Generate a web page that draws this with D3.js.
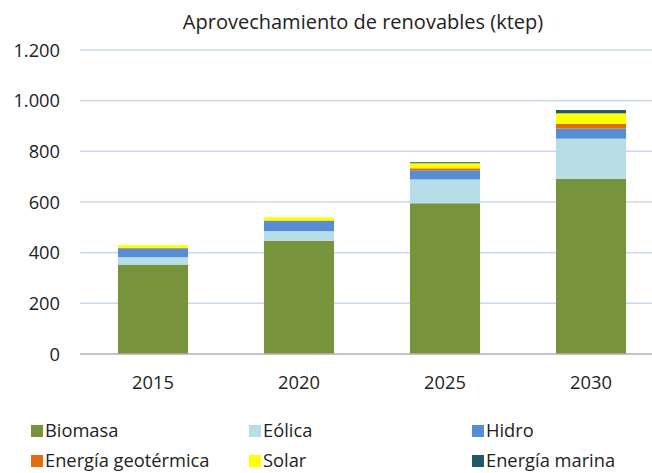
<!DOCTYPE html>
<html><head><meta charset="utf-8">
<script src="https://cdn.jsdelivr.net/npm/d3@7"></script>
<style>body{margin:0;background:#fff}svg{display:block}</style>
</head><body><svg id="c" width="652" height="473"></svg>
<script>
const categories = ["2015","2020","2025","2030"];
const seriesNames = ["Biomasa","Eólica","Hidro","Energía geotérmica","Solar","Energía marina"];
const biomasa = [353, 447, 595, 692];
const eolica = [29, 38, 94, 158];
const hidro = [35, 40, 36, 40];
const geotermica = [2, 2, 8, 18];
const solar = [11, 13, 20, 42];
const marina = [0, 0, 4, 13];
const yTicks = [0,200,400,600,800,1000,1200];
const colors = ["#77933c","#b7dee8","#558ed5","#e46c0a","#ffff00","#215968"];
const title = "Aprovechamiento de renovables (ktep)";

const seriesVals = [biomasa, eolica, hidro, geotermica, solar, marina];
const rows = categories.map((c,i)=>{const r={cat:c}; seriesNames.forEach((s,j)=>r[s]=seriesVals[j][i]); return r;});
const stack = d3.stack().keys(seriesNames)(rows);

const svg = d3.select("#c");
const font = "'Open Sans', sans-serif";
const fs = 18.3;
const x = d3.scaleBand().domain(categories).range([80,664]).paddingInner(0.52).paddingOuter(0.26);
const y = d3.scaleLinear().domain([0,1200]).range([354,50]);

// gridlines
svg.append("g").selectAll("line").data(yTicks.filter(t=>t>0)).join("line")
  .attr("x1",80).attr("x2",652).attr("y1",d=>y(d)).attr("y2",d=>y(d))
  .attr("stroke","#cbd8ef").attr("stroke-width",1.5);

// y labels
const fmt = d=> d3.format(",")(d).replace(/,/g,".");
svg.append("g").selectAll("text").data(yTicks).join("text")
  .attr("x",60).attr("y",d=>y(d)).attr("dy","0.36em").attr("text-anchor","end")
  .attr("font-family",font).attr("font-size",fs).attr("fill","#222").text(fmt);

// bars
svg.append("g").selectAll("g").data(stack).join("g").attr("fill",(d,i)=>colors[i])
  .selectAll("rect").data(d=>d).join("rect")
  .attr("x",d=>x(d.data.cat)).attr("width",x.bandwidth())
  .attr("y",d=>y(d[1])).attr("height",d=>Math.max(0,y(d[0])-y(d[1])));

// baseline
svg.append("line").attr("x1",80).attr("x2",652).attr("y1",y(0)).attr("y2",y(0))
  .attr("stroke","#b0b0b0").attr("stroke-width",1.5);

// x labels
svg.append("g").selectAll("text").data(categories).join("text")
  .attr("x",d=>x(d)+x.bandwidth()/2).attr("y",382).attr("dy","0.36em").attr("text-anchor","middle")
  .attr("font-family",font).attr("font-size",fs).attr("fill","#222").text(d=>d);

// title
svg.append("text").attr("x",363).attr("y",22).attr("dy","0.36em").attr("text-anchor","middle")
  .attr("font-family",font).attr("font-size",20).attr("fill","#222").text(title);

// legend
const lx = [31,249,472], ly=[431,461];
const lg = svg.append("g").selectAll("g").data(seriesNames).join("g")
  .attr("transform",(d,i)=>`translate(${lx[i%3]},${ly[Math.floor(i/3)]})`);
lg.append("rect").attr("x",0).attr("y",-6).attr("width",12).attr("height",12).attr("fill",(d,i)=>colors[i]);
lg.append("text").attr("x",14).attr("y",0).attr("dy","0.33em")
  .attr("font-family",font).attr("font-size",fs).attr("fill","#222").text(d=>d);
</script></body></html>
